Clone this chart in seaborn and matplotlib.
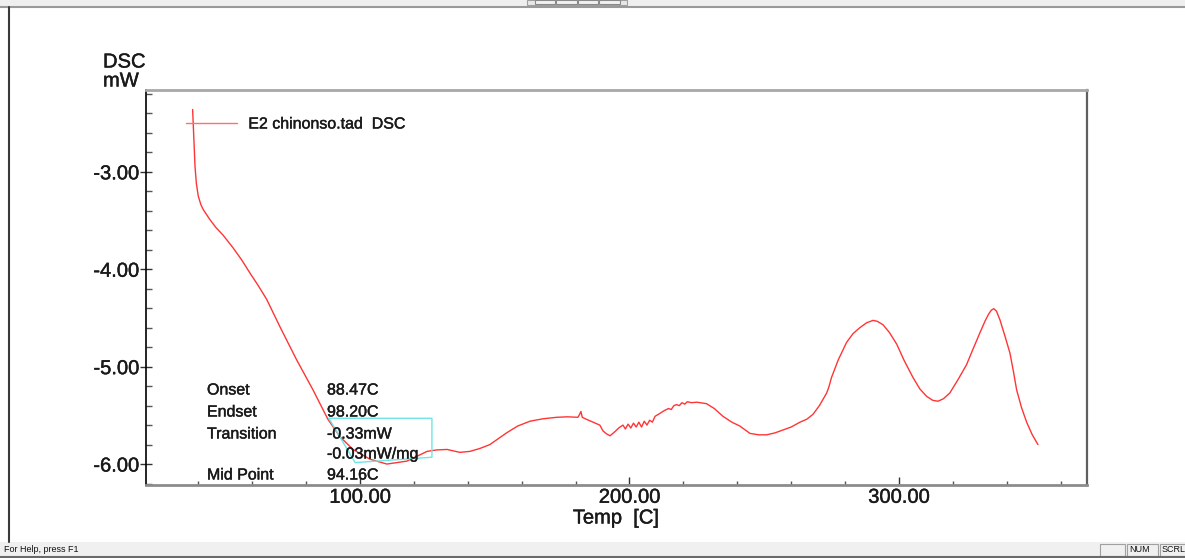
import matplotlib
matplotlib.use("Agg")
import matplotlib.pyplot as plt
from matplotlib.patches import Rectangle
from matplotlib.lines import Line2D
from matplotlib.ticker import MultipleLocator, FormatStrFormatter
import matplotlib.patheffects as pe
import seaborn as sns
import pandas as pd

# ---------------- data ----------------
temp = [37.9, 38.15, 38.5, 38.8, 39.3, 40.0, 41.0, 41.9, 44.3, 46.5, 49.2, 52.9, 56.0, 59.2,
        62.3, 65.4, 70.3, 76.5, 82.6, 88.1, 92.6, 97.4, 103.7, 110.0, 117.4, 124.9, 128.5,
        132.3, 137.1, 140.8, 144.5, 148.2, 154.4, 158.5, 163.1, 168.0, 173.0, 177.0, 180.9,
        181.5, 182.0, 182.5, 184.0, 186.5, 189.0, 190.2, 191.5, 192.8, 194.5, 196.0, 197.6,
        198.5, 199.5, 200.5, 201.5, 202.5, 203.5, 204.5, 205.5, 206.5, 207.5, 208.5, 209.5,
        211.3, 213.0, 214.5, 215.5, 216.5, 217.5, 218.5, 219.5, 220.5, 221.5, 223.0, 225.0,
        228.6, 231.5, 234.7, 238.0, 241.0, 244.7, 248.0, 250.9, 254.0, 257.0, 260.0, 263.3,
        265.8, 268.1, 270.5, 273.2, 274.0, 275.0, 277.5, 280.6, 283.0, 285.5, 288.0, 290.4,
        292.0, 294.1, 296.5, 299.2, 302.0, 305.2, 307.8, 310.3, 312.5, 314.5, 316.5, 318.9,
        322.0, 325.1, 327.5, 330.1, 332.0, 333.3, 334.3, 335.2, 336.2, 337.5, 339.5, 341.2,
        342.5, 343.7, 345.5, 347.4, 349.5, 351.6]
dsc = [-2.36, -2.52, -2.75, -2.95, -3.12, -3.25, -3.34, -3.39, -3.49, -3.57, -3.65, -3.78,
       -3.90, -4.04, -4.17, -4.31, -4.59, -4.93, -5.24, -5.54, -5.72, -5.85, -5.95, -6.00,
       -5.97, -5.87, -5.855, -5.85, -5.88, -5.87, -5.84, -5.80, -5.68, -5.61, -5.56, -5.535,
       -5.52, -5.515, -5.52, -5.49, -5.46, -5.52, -5.54, -5.57, -5.60, -5.66, -5.69, -5.71,
       -5.67, -5.63, -5.60, -5.64, -5.59, -5.63, -5.58, -5.62, -5.57, -5.62, -5.56, -5.60,
       -5.55, -5.57, -5.51, -5.48, -5.45, -5.43, -5.44, -5.40, -5.39, -5.40, -5.37, -5.385,
       -5.36, -5.37, -5.365, -5.38, -5.43, -5.51, -5.57, -5.61, -5.685, -5.70, -5.70, -5.68,
       -5.65, -5.62, -5.57, -5.54, -5.49, -5.40, -5.27, -5.21, -5.11, -4.93, -4.75, -4.66,
       -4.60, -4.55, -4.525, -4.535, -4.57, -4.65, -4.77, -4.94, -5.11, -5.23, -5.305, -5.345,
       -5.355, -5.33, -5.27, -5.13, -4.98, -4.82, -4.65, -4.53, -4.46, -4.42, -4.405, -4.43,
       -4.52, -4.70, -4.86, -5.05, -5.24, -5.42, -5.57, -5.70, -5.80]

series_label = "E2 chinonso.tad  DSC"
x_ticks = [100, 200, 300]
y_ticks = [-3.0, -4.0, -5.0, -6.0]

ann_names = ["Onset", "Endset", "Transition", "Mid Point"]
ann_values = ["88.47C", "98.20C", "-0.33mW", "94.16C"]
ann_extra = "-0.03mW/mg"

# transition box (data coordinates)
box_x = [88.47, 126.7, 126.7, 98.2, 88.47]
box_y = [-5.53, -5.53, -5.93, -5.985, -5.53]

# ---------------- style ----------------
sns.set_theme(style="white")
plt.rcParams["font.family"] = ["Liberation Sans", "DejaVu Sans"]

W, H = 1185, 558
fig = plt.figure(figsize=(W / 100, H / 100), dpi=100)
fig.patch.set_facecolor("white")

def fx(px):
    return px / W

def fy(py):
    return 1 - py / H

thick = [pe.withStroke(linewidth=0.3, foreground="#1a1a1a")]

L, R, T, B = 146, 1087, 90, 485
ax = fig.add_axes([fx(L), fy(B), (R - L) / W, (B - T) / H])
ax.set_facecolor("white")

df = pd.DataFrame({"Temp": temp, "DSC": dsc})
sns.lineplot(data=df, x="Temp", y="DSC", ax=ax, color="#ff3535", lw=1.0,
             sort=False, estimator=None, label=series_label)
ax.plot(box_x, box_y, color="#6ee6e6", lw=1.0)

ax.set_xlim(20.6, 369.8)
ax.set_ylim(-6.215, -2.16)
ax.xaxis.set_major_locator(MultipleLocator(100))
ax.xaxis.set_minor_locator(MultipleLocator(20))
ax.yaxis.set_major_locator(MultipleLocator(1.0))
ax.yaxis.set_minor_locator(MultipleLocator(0.2))
ax.set_xticks(x_ticks)
ax.set_yticks(y_ticks)
ax.xaxis.set_major_formatter(FormatStrFormatter("%.2f"))
ax.yaxis.set_major_formatter(FormatStrFormatter("%.2f"))

ax.tick_params(axis="y", which="major", direction="inout", length=8, width=1,
               color="#333333", labelsize=14.5, labelcolor="#1a1a1a", pad=1, left=True)
ax.tick_params(axis="y", which="minor", direction="in", length=4, width=1,
               color="#555555", left=True)
ax.tick_params(axis="x", which="major", direction="in", length=6, width=1,
               color="#333333", labelsize=14.5, labelcolor="#1a1a1a", pad=2, bottom=True)
ax.tick_params(axis="x", which="minor", direction="in", length=3, width=1,
               color="#555555", bottom=True)
ax.set_xlabel("")
ax.set_ylabel("")
for lab in ax.get_xticklabels() + ax.get_yticklabels():
    lab.set_path_effects(thick)

ax.spines["left"].set_color("#000000")
ax.spines["left"].set_linewidth(1.2)
ax.spines["bottom"].set_color("#8c8c8c")
ax.spines["bottom"].set_linewidth(2.0)
ax.spines["top"].set_color("#a8a8a8")
ax.spines["top"].set_linewidth(2.0)
ax.spines["right"].set_color("#606060")
ax.spines["right"].set_linewidth(1.6)

# legend
leg_fs = 11.5
leg = ax.legend(loc="center left", bbox_to_anchor=(fx(186), fy(124)),
                bbox_transform=fig.transFigure, frameon=False, fontsize=leg_fs,
                handlelength=3.2, handletextpad=0.7, borderpad=0, borderaxespad=0)
for h in leg.get_lines():
    h.set_color("#ff7070")
    h.set_linewidth(1.0)
for t in leg.get_texts():
    t.set_color("#1a1a1a")
    t.set_path_effects(thick)

# axis titles
for txt, xx, yy, ha in [("DSC", 103, 62, "left"), ("mW", 103, 81, "left"),
                        ("Temp  [C]", 616, 518, "center")]:
    fig.text(fx(xx), fy(yy), txt, fontsize=14.5, color="#1a1a1a", ha=ha, va="center",
             path_effects=thick)

# annotation block
name_y = [390, 412, 434, 475]
for n, v, yy in zip(ann_names, ann_values, name_y):
    fig.text(fx(207), fy(yy), n, fontsize=leg_fs, color="#1a1a1a", ha="left", va="center",
             path_effects=thick)
    fig.text(fx(327), fy(yy), v, fontsize=leg_fs, color="#1a1a1a", ha="left", va="center",
             path_effects=thick)
fig.text(fx(327), fy(454), ann_extra, fontsize=leg_fs, color="#1a1a1a", ha="left",
         va="center", path_effects=thick)

# ---------------- window chrome ----------------
def rect(x0, y0, x1, y1, **kw):
    fig.add_artist(Rectangle((fx(x0), fy(y1)), (x1 - x0) / W, (y1 - y0) / H,
                             transform=fig.transFigure, **kw))

def hline(x0, x1, y, **kw):
    fig.add_artist(Line2D([fx(x0), fx(x1)], [fy(y), fy(y)], transform=fig.transFigure, **kw))

def vline(x, y0, y1, **kw):
    fig.add_artist(Line2D([fx(x), fx(x)], [fy(y0), fy(y1)], transform=fig.transFigure, **kw))

# top bar
rect(0, 0, W, 6, facecolor="#efefef", edgecolor="none")
hline(0, W, 6.5, color="#9a9a9a", lw=1.5)
rect(527, 0, 627, 5, facecolor="#e8e8e8", edgecolor="#a0a0a0", lw=0.8)
for bx0, bx1 in [(535, 555), (556, 577), (578, 598), (599, 620)]:
    rect(bx0, 0, bx1, 4, facecolor="#f2f2f2", edgecolor="#8a8a8a", lw=0.8)

# left border
vline(9, 7, 542, color="#3a3a3a", lw=1.5)

# status bar
rect(0, 542, W, H, facecolor="#f0f0f0", edgecolor="none")
hline(0, W, 557, color="#6a6a6a", lw=1.5)
fig.text(fx(4), fy(550), "For Help, press F1", fontsize=6.5, color="#111111",
         ha="left", va="center")
rect(1100, 544, 1125, 556, facecolor="#f0f0f0", edgecolor="#a0a0a0", lw=0.8)
rect(1127, 544, 1158, 556, facecolor="#f0f0f0", edgecolor="#a0a0a0", lw=0.8)
rect(1160, 544, 1190, 556, facecolor="#f0f0f0", edgecolor="#a0a0a0", lw=0.8)
fig.text(fx(1129), fy(550), "NUM", fontsize=6.5, color="#111111", ha="left", va="center")
fig.text(fx(1162), fy(550), "SCRL", fontsize=6.5, color="#111111", ha="left", va="center")

fig.savefig("out.png", dpi=100, facecolor="white")
